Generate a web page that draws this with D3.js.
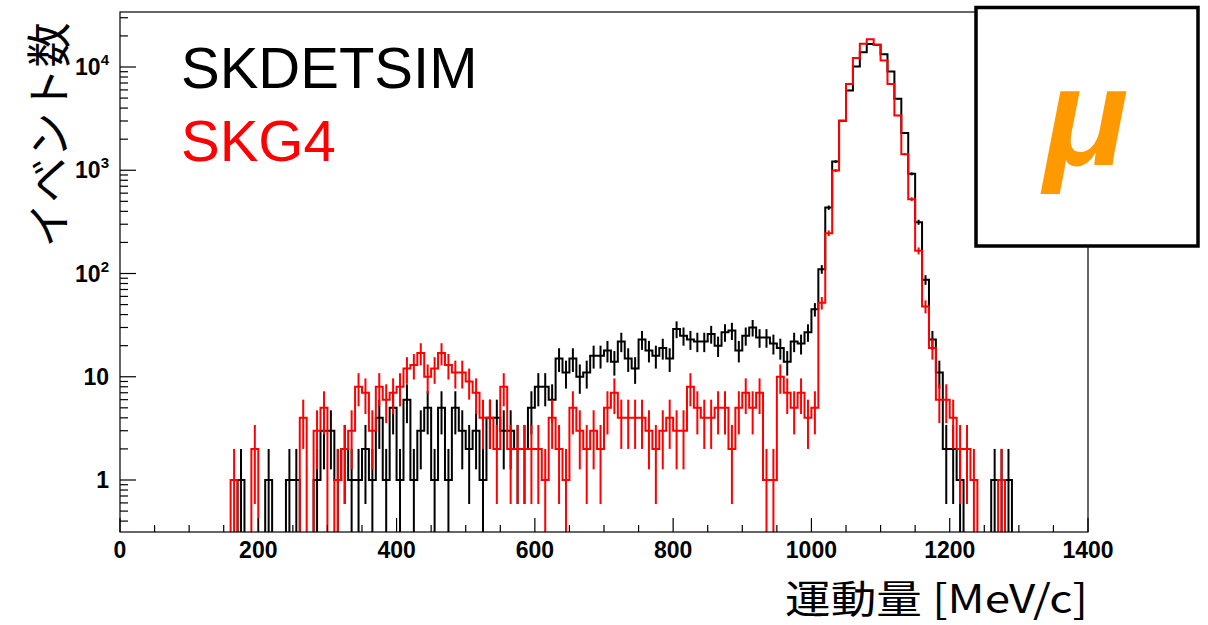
<!DOCTYPE html>
<html><head><meta charset="utf-8">
<script src="https://cdn.jsdelivr.net/npm/d3@7"></script>
<style>body{margin:0;background:#fff;overflow:hidden}</style>
</head><body>
<svg id="c" width="1208" height="625"></svg>
<script>
// ---- data ----
const binWidth = 10;               // MeV/c per bin
const xDomain = [0, 1400];
const xTickValues = [0, 200, 400, 600, 800, 1000, 1200, 1400];
const yTickValues = [1, 10, 100, 1000, 10000];
const yTickBase = ["1", "10", "10", "10", "10"];
const yTickExp = ["", "", "2", "3", "4"];
const seriesNames = ["SKDETSIM", "SKG4"];
const seriesColors = ["#000000", "#ff0000"];

// SKDETSIM counts, bins of 10 MeV/c from 0 to 1400
const skdetsim = [
  0,0,0,0,0,0,0,0,0,0,
  0,0,0,0,0,0,0,1,0,0,
  0,1,0,0,1,1,0,0,1,3,
  3,1,2,1,1,2,1,4,1,5,
  1,6,1,3,5,1,5,1,5,3,
  2,3,1,4,4,3,3,2,2,5,
  8,8,6,15,11,15,10,11,16,16,
  18,14,22,15,12,23,18,16,19,15,
  29,25,23,22,22,26,20,27,28,18,
  25,30,24,24,21,19,14,22,21,27,
  45,110,435,1214,3013,5930,10100,13900,16700,16400,
  13300,9050,4920,2290,923,314,87,23,11,2,
  2,1,0,0,0,0,1,1,1,0,
  0,0,0,0,0,0,0,0,0,0
];
// SKG4 counts
const skg4 = [
  0,0,0,0,0,0,0,0,0,0,
  0,0,0,0,0,0,1,0,0,2,
  0,0,0,0,0,0,4,0,3,5,
  0,1,2,3,8,7,3,8,6,7,
  8,12,13,17,10,12,17,13,11,11,
  9,7,4,4,2,8,2,2,2,2,
  2,1,4,2,1,5,3,2,3,2,
  5,7,4,4,4,4,3,2,3,4,
  3,3,8,5,4,4,5,5,2,5,
  7,5,7,1,1,10,7,5,7,4,
  5,52,246,993,3013,6830,12200,16800,18600,16400,
  11550,6830,3390,1432,525,166,48,19,6,6,
  4,2,2,1,0,0,0,1,0,0,
  0,0,0,0,0,0,0,0,0,0
];

// ---- layout ----
const L = 120, R = 1088, T = 12, B = 532;
const svg = d3.select("#c");
const x = d3.scaleLinear().domain(xDomain).range([L, R]);
const yMin = Math.pow(10, -(B - 480) / 103.25);
const yMax = Math.pow(10, (480 - T) / 103.25);
const y = d3.scaleLog().domain([yMin, yMax]).range([B, T]);

svg.append("defs").append("clipPath").attr("id", "clip")
  .append("rect").attr("x", L).attr("y", T).attr("width", R - L).attr("height", B - T);

const plot = svg.append("g").attr("clip-path", "url(#clip)");

function yv(v) { return v > 0 ? y(Math.max(v, yMin)) : B + 2; }

function stepPath(counts) {
  let d = "";
  counts.forEach((v, i) => {
    const x0 = x(i * binWidth), x1 = x((i + 1) * binWidth);
    d += (i === 0 ? `M${x0},${yv(v)}` : `V${yv(v)}`) + `H${x1}`;
  });
  return d;
}

[skdetsim, skg4].forEach((counts, si) => {
  const col = seriesColors[si];
  const g = plot.append("g");
  g.append("path").attr("d", stepPath(counts)).attr("fill", "none")
    .attr("stroke", col).attr("stroke-width", 2);
  const pts = counts.map((v, i) => ({v, c: (i + 0.5) * binWidth})).filter(p => p.v > 0);
  g.selectAll("line").data(pts).enter().append("line")
    .attr("x1", p => x(p.c)).attr("x2", p => x(p.c))
    .attr("y1", p => { const lo = p.v - Math.sqrt(p.v); return lo > yMin ? y(lo) : B + 2; })
    .attr("y2", p => y(p.v + Math.sqrt(p.v)))
    .attr("stroke", col).attr("stroke-width", 2);
});

// frame
svg.append("rect").attr("x", L).attr("y", T).attr("width", R - L).attr("height", B - T)
  .attr("fill", "none").attr("stroke", "#000").attr("stroke-width", 1.2);

// x ticks
const xMinor = d3.range(0, 1401, 50);
svg.append("g").selectAll("line").data(xMinor).enter().append("line")
  .attr("x1", d => x(d)).attr("x2", d => x(d))
  .attr("y1", B).attr("y2", d => B - (d % 200 === 0 ? 14 : 7))
  .attr("stroke", "#000").attr("stroke-width", 1.2);
svg.append("g").selectAll("text").data(xTickValues).enter().append("text")
  .attr("x", d => x(d)).attr("y", 558).attr("text-anchor", "middle")
  .attr("font-family", "Liberation Sans, Arial, sans-serif").attr("font-weight", "bold")
  .attr("font-size", 23).text(d => d);

// y ticks (log)
const yMinorVals = [];
for (let e = -1; e <= 4; e++) for (let m = 1; m <= 9; m++) {
  const v = m * Math.pow(10, e);
  if (v >= yMin && v <= yMax) yMinorVals.push({v, major: m === 1});
}
svg.append("g").selectAll("line").data(yMinorVals).enter().append("line")
  .attr("x1", L).attr("x2", d => L + (d.major ? 16 : 8))
  .attr("y1", d => y(d.v)).attr("y2", d => y(d.v))
  .attr("stroke", "#000").attr("stroke-width", 1.2);
const yl = svg.append("g").selectAll("text").data(yTickValues).enter().append("text")
  .attr("x", 109).attr("y", d => y(d) + 8).attr("text-anchor", "end")
  .attr("font-family", "Liberation Sans, Arial, sans-serif").attr("font-weight", "bold")
  .attr("font-size", 23);
yl.append("tspan").text((d, i) => yTickBase[i]);
yl.append("tspan").attr("font-size", 15).attr("dy", -10).text((d, i) => yTickExp[i]);

// axis titles
svg.append("text").attr("x", R).attr("y", 613).attr("text-anchor", "end")
  .attr("font-family", "Noto Sans CJK JP, sans-serif").attr("font-size", 39)
  .attr("textLength", 303).attr("lengthAdjust", "spacingAndGlyphs")
  .text("運動量 [MeV/c]");
svg.append("text").attr("transform", "translate(66,135) rotate(-90)")
  .attr("text-anchor", "middle")
  .attr("font-family", "Noto Sans CJK JP, sans-serif").attr("font-size", 45)
  .text("イベント数");

// legend
seriesNames.forEach((n, i) => {
  svg.append("text").attr("x", 181).attr("y", 88 + i * 73)
    .attr("font-family", "Liberation Sans, Arial, sans-serif").attr("font-size", 58)
    .attr("fill", seriesColors[i]).text(n);
});

// particle box
svg.append("rect").attr("x", 976).attr("y", 7.5).attr("width", 222).attr("height", 238.5)
  .attr("fill", "#fff").attr("stroke", "#000").attr("stroke-width", 3.5);
svg.append("text").attr("x", 1086).attr("y", 165).attr("text-anchor", "middle")
  .attr("font-family", "Liberation Sans, Arial, sans-serif").attr("font-weight", "bold")
  .attr("font-style", "italic").attr("font-size", 140).attr("fill", "#ff9900").text("μ");
</script>
</body></html>
